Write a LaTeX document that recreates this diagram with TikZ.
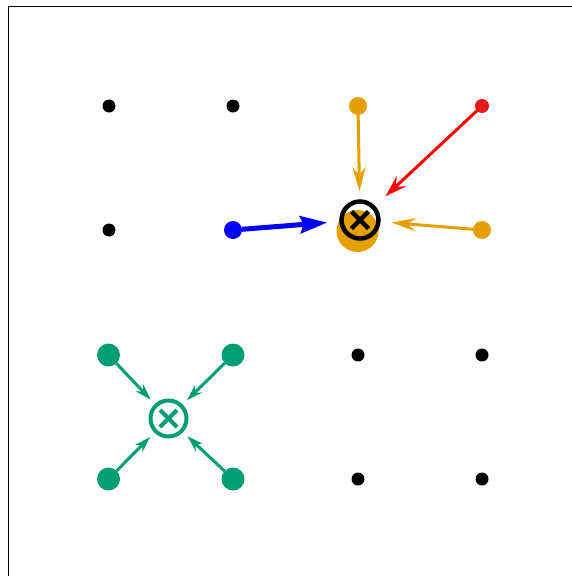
\documentclass[tikz,border=0pt]{standalone}
\usetikzlibrary{arrows.meta}
\definecolor{okorange}{HTML}{E69F00}
\definecolor{okgreen}{HTML}{009E73}
\definecolor{reddot}{HTML}{E41A1C}
\definecolor{pureblue}{HTML}{0000FF}
\definecolor{purered}{HTML}{FF0000}
\tikzset{
  dot/.style={circle, inner sep=0pt, outer sep=0pt, minimum size=#1},
  blackdot/.style={dot=13pt, fill=black},
  orangedot/.style={dot=18pt, fill=okorange},
  greendot/.style={dot=23pt, fill=okgreen},
  centroid/.style={circle, draw=#1, line width=4.5pt, inner sep=0pt, minimum size=37pt},
  xmark/.style={line width=4.5pt},
  orangearrow/.style={draw=okorange, line width=3pt, -{Stealth[length=24pt,width=13pt,inset=8pt]}},
  redarrow/.style={draw=purered, line width=3pt, -{Stealth[length=22pt,width=14pt,inset=8pt]}},
  bluearrow/.style={draw=pureblue, line width=5pt, -{Stealth[length=27pt,width=17pt,inset=3pt]}},
  greenarrow/.style={draw=okgreen, line width=3pt, -{Stealth[length=16pt,width=10pt,inset=5pt]}},
}
\begin{document}
\begin{tikzpicture}[x=1pt,y=-1pt]
\useasboundingbox (0,0) rectangle (572,576);
% axes frame (left and top edges)
\draw[line width=1.3pt] (8.5,576) -- (8.5,6.5) -- (572,6.5);

% plain grid points
\node[blackdot] (p11) at (109,106) {};
\node[blackdot] (p12) at (233,106) {};
\node[blackdot] (p21) at (109,230) {};
\node[blackdot] (p33) at (358,355) {};
\node[blackdot] (p34) at (482,355) {};
\node[blackdot] (p43) at (358,479) {};
\node[blackdot] (p44) at (482,479) {};

% upper cluster
\node[orangedot] (o1) at (358,106) {};
\node[dot=14pt, fill=reddot] (r1) at (482,106) {};
\node[dot=18pt, fill=pureblue] (b1) at (233,230) {};
\node[orangedot] (o2) at (482,230) {};
\node[dot=42pt, fill=okorange] (obig) at (357.5,231) {};
\node[centroid=black] (c1) at (360,220) {};
\draw[xmark, black] ([shift={(-8.5,-8.5)}]c1.center) -- ([shift={(8.5,8.5)}]c1.center);
\draw[xmark, black] ([shift={(-8.5,8.5)}]c1.center) -- ([shift={(8.5,-8.5)}]c1.center);

\draw[orangearrow, shorten >=8pt] (o1) -- (c1);
\draw[orangearrow, shorten >=11pt] (o2) -- (c1);
\draw[redarrow, shorten >=14pt] (r1) -- (c1);
\draw[bluearrow, shorten >=12pt] (b1) -- (c1);

% lower cluster
\node[greendot] (g1) at (108.5,355) {};
\node[greendot] (g2) at (233,355) {};
\node[greendot] (g3) at (108.5,479) {};
\node[greendot] (g4) at (233,479) {};
\node[centroid=okgreen, line width=4pt, minimum size=36pt] (c2) at (168.5,418.5) {};
\draw[xmark, okgreen, line width=4pt] ([shift={(-8.5,-8.5)}]c2.center) -- ([shift={(8.5,8.5)}]c2.center);
\draw[xmark, okgreen, line width=4pt] ([shift={(-8.5,8.5)}]c2.center) -- ([shift={(8.5,-8.5)}]c2.center);

\draw[greenarrow, shorten >=6pt] (g1) -- (c2);
\draw[greenarrow, shorten >=6pt] (g2) -- (c2);
\draw[greenarrow, shorten >=6pt] (g3) -- (c2);
\draw[greenarrow, shorten >=6pt] (g4) -- (c2);
\end{tikzpicture}
\end{document}
